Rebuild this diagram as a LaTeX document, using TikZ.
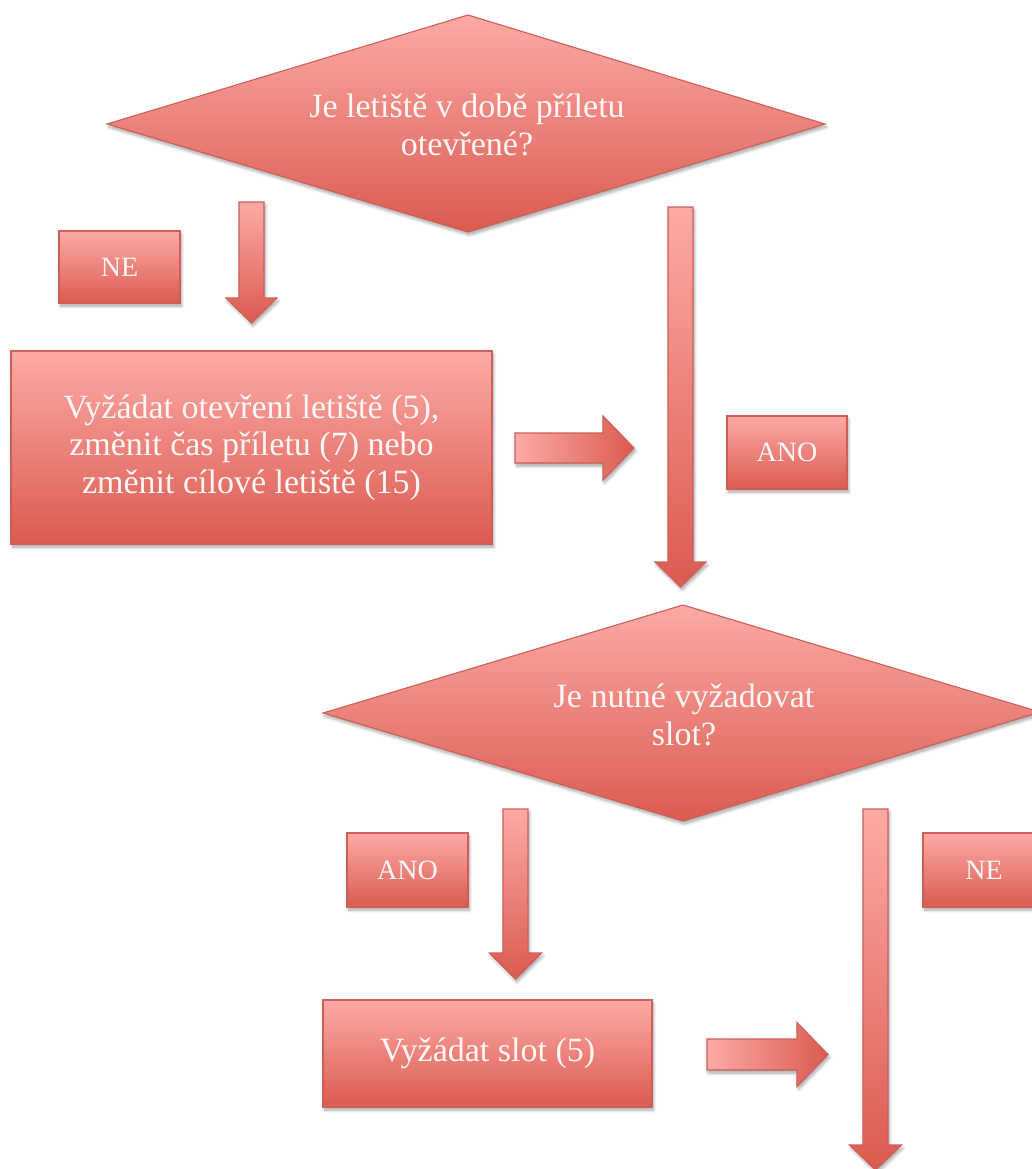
\documentclass[tikz,border=0pt]{standalone}
\usepackage{fontspec}
\setmainfont{Liberation Serif}
\usetikzlibrary{shadows.blur}

\definecolor{flowlight}{RGB}{252,170,166}
\definecolor{flowdark}{RGB}{219,91,80}
\definecolor{flowedge}{RGB}{205,95,88}
\definecolor{flowtext}{RGB}{255,247,246}

\tikzset{
  flowshape/.style={draw=flowedge, line width=1.1pt, line join=miter,
    blur shadow={shadow xshift=1.5pt, shadow yshift=-3pt,
      shadow blur radius=3pt, shadow blur steps=8, shadow opacity=35}},
  vfill/.style={top color=flowlight, bottom color=flowdark},
  hfill/.style={left color=flowlight, right color=flowdark},
  bigtext/.style={text=flowtext, align=center,
    font=\fontsize{34}{37.5}\selectfont},
  smalltext/.style={text=flowtext, font=\fontsize{28}{32}\selectfont},
  stepbox/.style={flowshape, vfill, rectangle, inner sep=0pt, bigtext},
  tagbox/.style={flowshape, vfill, rectangle, inner sep=0pt, smalltext},
  question/.style={inner sep=0pt, bigtext},
}

% block arrow pointing down: centre x, top y, head y, tip y, half shaft, half head
\newcommand\flowdown[6]{%
  \path[flowshape, vfill] (#1-#5,#2) -- (#1+#5,#2) -- (#1+#5,#3) -- (#1+#6,#3)
    -- (#1,#4) -- (#1-#6,#3) -- (#1-#5,#3) -- cycle;}
% block arrow pointing right: centre y, left x, head x, tip x, half shaft, half head
\newcommand\flowright[6]{%
  \path[flowshape, hfill] (#2,#1-#5) -- (#3,#1-#5) -- (#3,#1-#6) -- (#4,#1)
    -- (#3,#1+#6) -- (#3,#1+#5) -- (#2,#1+#5) -- cycle;}

\begin{document}
\begin{tikzpicture}[x=1pt, y=-1pt]
\useasboundingbox (0,0) rectangle (1032,1169);
\clip (0,0) rectangle (1032,1169);

% first decision
\path[flowshape, vfill] (107,124) -- (468,15) -- (825,124) -- (468,232) -- cycle;
\node[question] (open) at (467,125) {Je letiště v době příletu\\otevřené?};

\flowdown{251.5}{202}{298}{323}{12.5}{25.5}
\node[tagbox, minimum width=121pt, minimum height=72pt] (no1) at (119.5,267) {NE};

\node[stepbox, minimum width=481pt, minimum height=193pt] (change) at (251.5,447.5)
  {Vyžádat otevření letiště (5),\\změnit čas příletu (7) nebo\\změnit cílové letiště (15)};

\flowright{448}{515}{603}{634}{15}{32}

\flowdown{680.5}{207}{562}{587}{12.5}{25.5}
\node[tagbox, minimum width=120pt, minimum height=73pt] (yes1) at (787,452.5) {ANO};

% second decision
\path[flowshape, vfill] (323,713) -- (683,605) -- (1040,712) -- (683,821) -- cycle;
\node[question] (slot) at (684,715) {Je nutné vyžadovat\\slot?};

\flowdown{515.5}{809}{953}{979}{12.5}{26}
\node[tagbox, minimum width=121pt, minimum height=74pt] (yes2) at (407.5,870) {ANO};

\node[stepbox, minimum width=329pt, minimum height=107pt] (request) at (487.5,1053.5)
  {Vyžádat slot (5)};

\flowright{1054.5}{707}{797}{828}{15.5}{32}

\flowdown{875.5}{809}{1145}{1170}{12.5}{26}
\node[tagbox, minimum width=122pt, minimum height=74pt] (no2) at (984,870) {NE};
\end{tikzpicture}
\end{document}
